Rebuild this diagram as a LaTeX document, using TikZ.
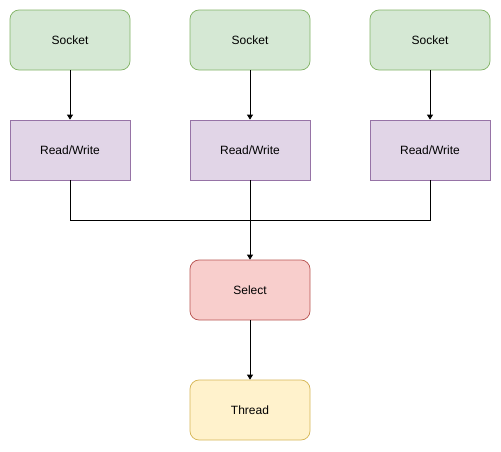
\documentclass[tikz,border=0pt]{standalone}
\usepackage{fontspec}
\setmainfont{Liberation Sans}
\usetikzlibrary{arrows.meta}
\definecolor{gfill}{HTML}{D5E8D4}\definecolor{gdraw}{HTML}{82B366}
\definecolor{pfill}{HTML}{E1D5E7}\definecolor{pdraw}{HTML}{9673A6}
\definecolor{rfill}{HTML}{F8CECC}\definecolor{rdraw}{HTML}{B85450}
\definecolor{yfill}{HTML}{FFF2CC}\definecolor{ydraw}{HTML}{D6B656}
\tikzset{
  box/.style={minimum width=120pt,minimum height=60pt,inner sep=0pt,font=\fontsize{12pt}{14pt}\selectfont,line width=0.75pt},
  sock/.style={box,rounded corners=9pt,fill=gfill,draw=gdraw},
  rw/.style={box,fill=pfill,draw=pdraw},
  sel/.style={box,rounded corners=9pt,fill=rfill,draw=rdraw},
  thr/.style={box,rounded corners=9pt,fill=yfill,draw=ydraw},
  conn/.style={line width=0.75pt,-{Triangle[length=5pt,width=6pt]}},
  link/.style={line width=0.75pt}
}
\begin{document}
\begin{tikzpicture}[x=1pt,y=-1pt]
\useasboundingbox (0,0) rectangle (501,451);
\node[sock] (s1) at (70,40) {Socket};
\node[sock] (s2) at (250,40) {Socket};
\node[sock] (s3) at (430,40) {Socket};
\node[rw] (r1) at (70,150) {Read/Write};
\node[rw] (r2) at (250,150) {Read/Write};
\node[rw] (r3) at (430,150) {Read/Write};
\node[sel] (sel) at (250,290) {Select};
\node[thr] (thr) at (250,410) {Thread};
\coordinate (j) at (250,220);
\draw[conn] (s1) -- (r1);
\draw[conn] (s2) -- (r2);
\draw[conn] (s3) -- (r3);
\draw[link] (r1.south) |- (j);
\draw[link] (r3.south) |- (j);
\draw[conn] (r2) -- (sel);
\draw[conn] (sel) -- (thr);
\end{tikzpicture}
\end{document}
